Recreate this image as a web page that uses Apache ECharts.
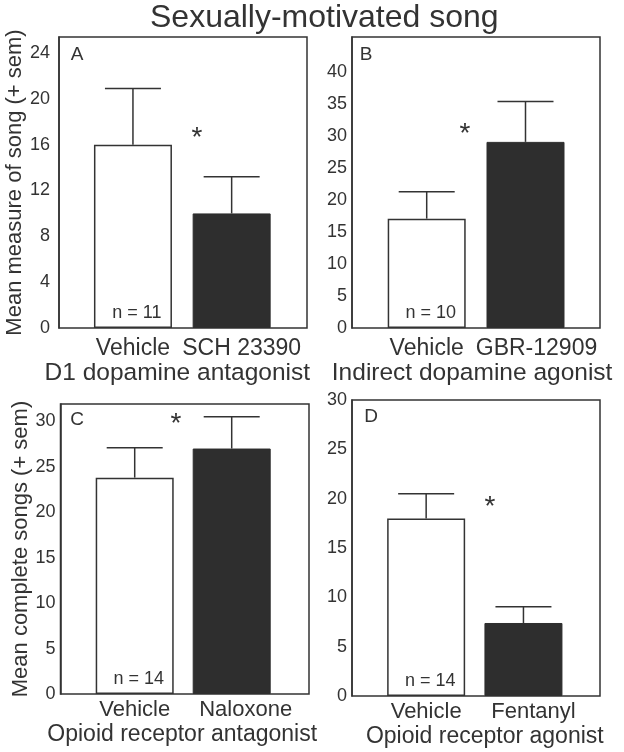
<!DOCTYPE html>
<html><head><meta charset="utf-8">
<script src="https://cdn.jsdelivr.net/npm/echarts@6/dist/echarts.min.js"></script>
<style>html,body{margin:0;padding:0;background:#fff}#c{width:624px;height:752px}</style>
</head><body><div id="c"></div>
<script>
const chartTitle = 'Sexually-motivated song';
const panelIds = ['A', 'B', 'C', 'D'];
const vehicleLabel = 'Vehicle';
const drugLabels = ['SCH 23390', 'GBR-12909', 'Naloxone', 'Fentanyl'];
const classLabels = ['D1 dopamine antagonist', 'Indirect dopamine agonist', 'Opioid receptor antagonist', 'Opioid receptor agonist'];
const vehicleMeans = [16.0, 17.1, 23.8, 18.0];
const vehicleSemTops = [20.9, 21.3, 27.1, 20.5];
const drugMeans = [10.0, 29.1, 27.0, 7.4];
const drugSemTops = [13.2, 35.4, 30.5, 9.05];
const nLabels = ['n = 11', 'n = 10', 'n = 14', 'n = 14'];
const yNames = ['Mean measure of song (+ sem)', '', 'Mean complete songs (+ sem)', ''];
const yIntervals = [4, 5, 5, 5];
const yLabelMax = [24, 40, 30, 30];
const yMaxes = [25.4, 45.5, 31.9, 30];

const FONT = '"Liberation Sans", Arial, Helvetica, sans-serif';
const INK = '#333';
const DARK = '#2e2e2e';

// layout (pixels)
const frames = [
  {left: 59, top: 37, width: 248, height: 291},
  {left: 352, top: 37, width: 248, height: 291},
  {left: 60.5, top: 404, width: 248.5, height: 290},
  {left: 352, top: 400, width: 248, height: 296}
];
const barGrids = [
  {left: 83.6, width: 197.4},
  {left: 377.3, width: 197.6},
  {left: 86.2, width: 194},
  {left: 377.5, width: 194.6}
];
const labelMargins = [9, 5, 5, 5];
const catMargins = [9, 9, 5, 5];
const catFont = [23, 23, 22, 22];
const subFont = [24.5, 24.5, 23, 23];
const drugShift = [10, 11, 14, 10];
const nameShift = [-5, -4, -1, 10];
const letterPos = [[77, 55], [366, 55], [77, 420], [371, 417]];
const starPos = [[197, 138], [465, 134], [176, 424], [490, 507]];

const grid = [], xAxis = [], yAxis = [], series = [], graphic = [];

for (let i = 0; i < 4; i++) {
  const f = frames[i], b = barGrids[i];
  grid.push({left: f.left, top: f.top, width: f.width, height: f.height, show: true,
    borderColor: INK, borderWidth: 1.5, backgroundColor: 'transparent'});
  xAxis.push({type: 'value', gridIndex: 2 * i, show: false, min: 0, max: 1});
  yAxis.push({type: 'value', gridIndex: 2 * i, min: 0, max: yMaxes[i], interval: yIntervals[i],
    axisLine: {show: true, lineStyle: {color: INK, width: 1.5}}, axisTick: {show: false},
    splitLine: {show: false},
    axisLabel: {color: INK, fontSize: 18, fontFamily: FONT, margin: labelMargins[i],
      formatter: v => {
        const k = v / yIntervals[i];
        return (Math.abs(k - Math.round(k)) < 1e-6 && v <= yLabelMax[i]) ? String(v) : '';
      }},
    name: yNames[i], nameLocation: 'middle', nameGap: i === 0 ? 29 : 28,
    nameTextStyle: {color: INK, fontSize: 22, fontFamily: FONT}});
  grid.push({left: b.left, top: f.top, width: b.width, height: f.height, show: false});
  const s = drugShift[i];
  xAxis.push({type: 'category', gridIndex: 2 * i + 1, data: [vehicleLabel, drugLabels[i]],
    axisLine: {show: false}, axisTick: {show: false},
    axisLabel: {color: INK, fontSize: catFont[i], fontFamily: FONT, margin: catMargins[i], interval: 0,
      formatter: (v, idx) => idx === 1 ? '{d|' + v + '}' : '{v|' + v + '}',
      rich: {
        v: {color: INK, fontSize: catFont[i], fontFamily: FONT},
        d: {color: INK, fontSize: catFont[i], fontFamily: FONT, padding: [0, 0, 0, 2 * s]}
      }},
    name: classLabels[i], nameLocation: 'middle', nameGap: i < 2 ? 30 : 29,
    nameTextStyle: {color: INK, fontSize: subFont[i], fontFamily: FONT,
      padding: nameShift[i] > 0 ? [0, 0, 0, 2 * nameShift[i]] : [0, -2 * nameShift[i], 0, 0]}});
  yAxis.push({type: 'value', gridIndex: 2 * i + 1, min: 0, max: yMaxes[i], show: false});

  series.push({type: 'bar', xAxisIndex: 2 * i + 1, yAxisIndex: 2 * i + 1, barWidth: 78,
    data: [
      {value: vehicleMeans[i], itemStyle: {color: '#fff', borderColor: INK, borderWidth: 1.5},
        label: {show: true, position: 'insideBottom', distance: 6, offset: [4, 0], formatter: nLabels[i],
          color: INK, fontSize: 18, fontFamily: FONT}},
      {value: drugMeans[i], itemStyle: {color: DARK, borderColor: DARK, borderWidth: 1}}
    ], z: 2});
  series.push({type: 'custom', xAxisIndex: 2 * i + 1, yAxisIndex: 2 * i + 1, z: 3,
    data: [[0, vehicleMeans[i], vehicleSemTops[i]], [1, drugMeans[i], drugSemTops[i]]],
    renderItem: (params, api) => {
      const p0 = api.coord([api.value(0), api.value(1)]);
      const p1 = api.coord([api.value(0), api.value(2)]);
      const st = {stroke: INK, lineWidth: 1.5};
      return {type: 'group', children: [
        {type: 'line', shape: {x1: p0[0], y1: p0[1], x2: p1[0], y2: p1[1]}, style: st},
        {type: 'line', shape: {x1: p1[0] - 28, y1: p1[1], x2: p1[0] + 28, y2: p1[1]}, style: st}
      ]};
    }});

  graphic.push({type: 'text', x: letterPos[i][0], y: letterPos[i][1],
    style: {text: panelIds[i], fill: INK, font: '19px ' + FONT, textAlign: 'center', textVerticalAlign: 'middle'}});
  graphic.push({type: 'text', x: starPos[i][0], y: starPos[i][1],
    style: {text: '*', fill: INK, font: '28px ' + FONT, textAlign: 'center', textVerticalAlign: 'middle'}});
}

const chart = echarts.init(document.getElementById('c'), null, {renderer: 'canvas'});
chart.setOption({
  animation: false,
  backgroundColor: '#fff',
  title: {text: chartTitle, left: 150, top: 2, padding: 0,
    textStyle: {color: INK, fontSize: 32, fontWeight: 'normal', fontFamily: FONT}},
  grid, xAxis, yAxis, series, graphic
});
</script></body></html>
